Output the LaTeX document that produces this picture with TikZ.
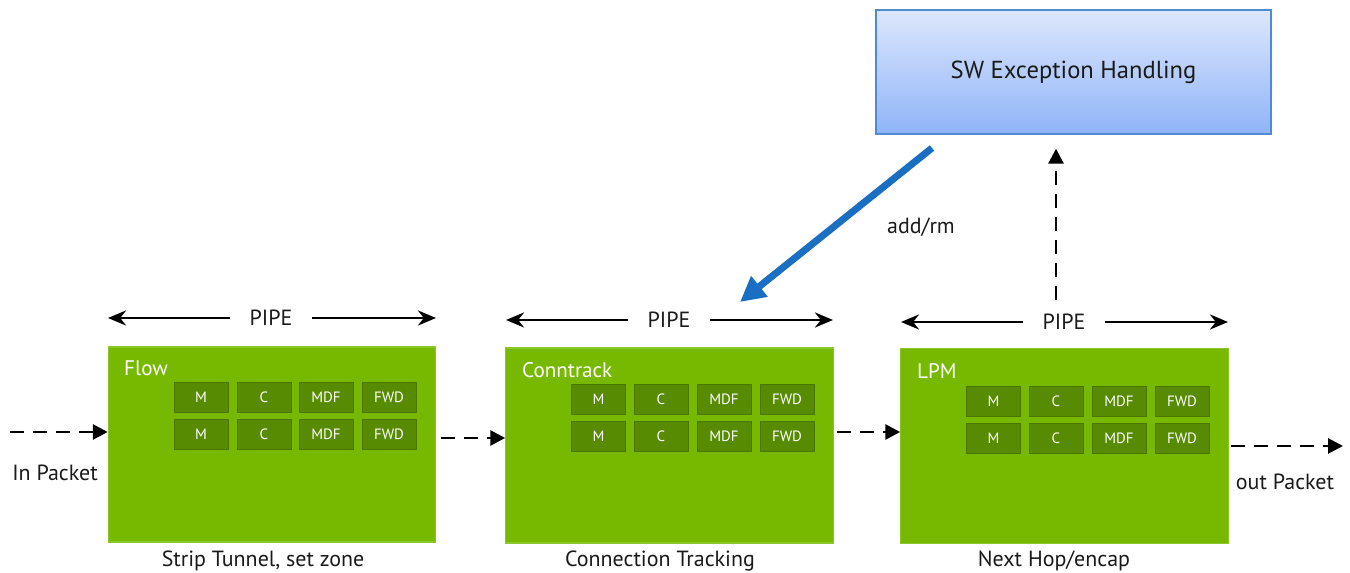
\documentclass[tikz,border=0pt]{standalone}
\usepackage{fontspec}
\setmainfont{PT Sans}
\usetikzlibrary{arrows.meta,positioning}

\definecolor{nvgreen}{HTML}{76B900}
\definecolor{nvgreenline}{HTML}{8BC727}
\definecolor{celldark}{HTML}{578B02}
\definecolor{cellline}{HTML}{4A7700}
\definecolor{swtop}{HTML}{DDE7FD}
\definecolor{swbot}{HTML}{8FB4F7}
\definecolor{swline}{HTML}{4F8AD2}
\definecolor{addblue}{HTML}{1B6FC3}
\definecolor{txt}{HTML}{1A1A1A}

\tikzset{
  stage/.style={draw=nvgreenline, fill=nvgreen, line width=0.6pt,
    minimum width=6.55cm, minimum height=3.9cm, inner sep=0pt},
  cell/.style={draw=cellline, fill=celldark, line width=0.5pt,
    minimum width=1.08cm, minimum height=0.6cm, inner sep=0pt,
    text=white, font=\fontsize{8.5}{10}\selectfont},
  title/.style={anchor=west, text=white, font=\fontsize{12}{14}\selectfont},
  caption/.style={text=txt, font=\fontsize{12.5}{15}\selectfont},
  pipe/.style={-{Stealth[length=3.6mm,width=3mm]}, line width=1.6pt},
  pipelabel/.style={text=txt, inner xsep=0.38cm, font=\fontsize{12.5}{15}\selectfont},
  packet/.style={-{Triangle[length=3mm,width=3mm]}, line width=1.6pt,
    dash pattern=on 0.28cm off 0.18cm},
}

\begin{document}
\begin{tikzpicture}[x=0.02cm, y=-0.02cm]
    \useasboundingbox (0,0) rectangle (1350,573);

    % software box
    \node[draw=swline, line width=0.8pt, top color=swtop, bottom color=swbot,
          minimum width=7.9cm, minimum height=2.48cm, text=txt,
          font=\fontsize{14}{16}\selectfont] (SW) at (1073.5,72) {SW Exception Handling};

    % stages
    \node[stage](F) at (272,444.5)   {};
    \node[stage](T) at (669.5,445.5) {};
    \node[stage](L) at (1064.5,446)  {};

    \node[title] at (118,368) {Flow};
    \node[title] at (516,370) {Conntrack};
    \node[title] at (911,371) {LPM};

    % table cells, flow
    \node[cell](F11) at (201,397) {M};
    \node[cell](F12) at (264,397) {C};
    \node[cell](F13) at (326,397) {MDF};
    \node[cell](F14) at (389,397) {FWD};
    \node[cell](F21) at (201,434) {M};
    \node[cell](F22) at (264,434) {C};
    \node[cell](F23) at (326,434) {MDF};
    \node[cell](F24) at (389,434) {FWD};
    % table cells, conntrack
    \node[cell](T11) at (598.5,399.5) {M};
    \node[cell](T12) at (661,399.5)   {C};
    \node[cell](T13) at (724,399.5)   {MDF};
    \node[cell](T14) at (787,399.5)   {FWD};
    \node[cell](T21) at (598.5,436.5) {M};
    \node[cell](T22) at (661,436.5)   {C};
    \node[cell](T23) at (724,436.5)   {MDF};
    \node[cell](T24) at (787,436.5)   {FWD};
    % table cells, lpm
    \node[cell](L11) at (993.5,401.5) {M};
    \node[cell](L12) at (1056,401.5)  {C};
    \node[cell](L13) at (1119,401.5)  {MDF};
    \node[cell](L14) at (1182,401.5)  {FWD};
    \node[cell](L21) at (993.5,438.5) {M};
    \node[cell](L22) at (1056,438.5)  {C};
    \node[cell](L23) at (1119,438.5)  {MDF};
    \node[cell](L24) at (1182,438.5)  {FWD};

    % captions
    \node[caption] at (263,561)  {Strip Tunnel, set zone};
    \node[caption] at (660,561)  {Connection Tracking};
    \node[caption] at (1054,561) {Next Hop/encap};

    % pipe arrows
    \node[pipelabel](FP) at (271,318)  {PIPE};
    \node[pipelabel](TP) at (669,320)  {PIPE};
    \node[pipelabel](LP) at (1064,322) {PIPE};
    \coordinate (FPl) at (108,318);  \coordinate (FPr) at (436,318);
    \coordinate (TPl) at (506,320);  \coordinate (TPr) at (833,320);
    \coordinate (LPl) at (901,322);  \coordinate (LPr) at (1228,322);
    \path[pipe]
        (FP) edge (FPl) edge (FPr)
        (TP) edge (TPl) edge (TPr)
        (LP) edge (LPl) edge (LPr);

    % packet path
    \coordinate (in)  at (10,432);
    \coordinate (out) at (1343,446);
    \node[caption] (inlbl)  at (55,473)   {In Packet};
    \node[caption] (outlbl) at (1285,482) {out Packet};
    \draw[packet] (in) -- (in -| F.west);
    \draw[packet] ([xshift=0.1cm]F.east |- 0,438) -- (T.west |- 0,438);
    \draw[packet] ([xshift=0.06cm]T.east |- 0,432) -- (L.west |- 0,432);
    \draw[packet] ([xshift=0.04cm]L.east |- out) -- (out);

    % exception path
    \coordinate (up) at (1056,300);
    \draw[packet] (up) -- ([yshift=-0.28cm]SW.south -| up);

    \coordinate (bs) at (932,148);
    \coordinate (be) at (740,302);
    \draw[-{Triangle[length=5mm,width=5mm]}, line width=4pt, addblue] (bs) -- (be);
    \node[caption] (addrm) at (921,227) {add/rm};
\end{tikzpicture}
\end{document}
